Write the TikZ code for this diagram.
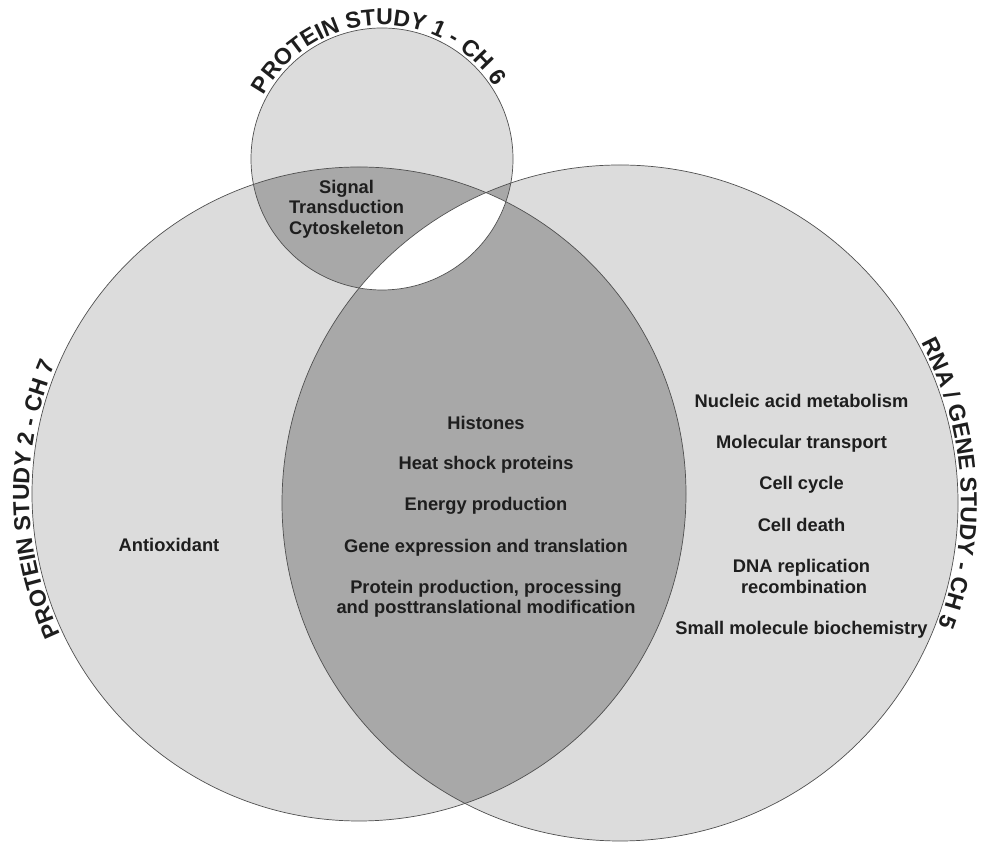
\documentclass[tikz,border=0pt]{standalone}
\usepackage{fontspec}
\setmainfont{Liberation Sans}
\usepackage{xcolor}
\usetikzlibrary{decorations.text}
\definecolor{vennlight}{HTML}{DCDCDC}
\definecolor{venndark}{HTML}{A8A8A8}
\definecolor{vennedge}{HTML}{505050}
\definecolor{vennink}{HTML}{1E1E1E}
\newcommand{\vennitem}{\fontsize{18.3}{20.4}\selectfont\bfseries}
\newcommand{\vennlabel}{\fontsize{23}{26}\selectfont\bfseries}

\begin{document}
\begin{tikzpicture}[
    x=1pt, y=1pt,
    bubble/.style={fill=vennlight},
    overlap/.style={fill=venndark},
    rim/.style={draw=vennedge, line width=0.7pt},
    item/.style={font=\vennitem, text=vennink, align=center, inner sep=0pt},
    arclabel/.style={decorate, decoration={text along path, text align=center, text color=vennink, text={|\vennlabel|#1}}}
]
    \useasboundingbox (0,0) rectangle (985,842);
    \coordinate (p1) at (382,683);   % protein study 1
    \coordinate (p2) at (359,348);   % protein study 2
    \coordinate (rna) at (620,339);  % rna / gene study

    % discs
    \fill[bubble] (p1) circle[radius=131pt];
    \fill[bubble] (p2) circle[radius=327pt];
    \fill[bubble] (rna) circle[radius=338pt];
    % two-way overlaps
    \begin{scope}
        \clip (p2) circle[radius=327pt];
        \fill[overlap] (rna) circle[radius=338pt];
        \fill[overlap] (p1) circle[radius=131pt];
    \end{scope}
    \begin{scope}
        \clip (p1) circle[radius=131pt];
        \fill[overlap] (rna) circle[radius=338pt];
    \end{scope}
    % three-way overlap
    \begin{scope}
        \clip (p1) circle[radius=131pt];
        \clip (p2) circle[radius=327pt];
        \fill[white] (rna) circle[radius=338pt];
    \end{scope}
    \draw[rim] (p1) circle[radius=131pt];
    \draw[rim] (p2) circle[radius=327pt];
    \draw[rim] (rna) circle[radius=338pt];

    % circle titles
    \path[arclabel={PROTEIN STUDY 1 - CH 6}] ([shift={(182:134pt)}]p1) arc[start angle=182, end angle=2, radius=134pt];
    \path[arclabel={PROTEIN STUDY 2 - CH 7}] ([shift={(221:330pt)}]p2) arc[start angle=221, end angle=141, radius=330pt];
    \path[arclabel={RNA / GENE STUDY - CH 5}] ([shift={(43.5:341pt)}]rna) arc[start angle=43.5, end angle=-36.5, radius=341pt];

    % contents
    \node[item] (signal) at (346.5,633) {Signal\\Transduction\\Cytoskeleton};
    \node[item, anchor=base] (antiox) at (169,290.3) {Antioxidant};

    \node[item, anchor=base] (histones) at (486,412.7) {Histones};
    \node[item, anchor=base] (heatshock) at (486,372) {Heat shock proteins};
    \node[item, anchor=base] (energy) at (486,331.3) {Energy production};
    \node[item, anchor=base] (geneexp) at (486,289.7) {Gene expression and translation};
    \node[item] (protprod) at (486,243.5) {Protein production, processing\\and posttranslational modification};

    \node[item, anchor=base] (nucleic) at (801.5,434.7) {Nucleic acid metabolism};
    \node[item, anchor=base] (moltrans) at (801.5,393) {Molecular transport};
    \node[item, anchor=base] (cellcycle) at (801.5,352) {Cell cycle};
    \node[item, anchor=base] (celldeath) at (801.5,310.3) {Cell death};
    \node[item] (dnarep) at (801.5,265.7) {DNA replication\\\hspace*{.28em}recombination};
    \node[item, anchor=base] (smallmol) at (801.5,207.7) {Small molecule biochemistry};
\end{tikzpicture}
\end{document}
